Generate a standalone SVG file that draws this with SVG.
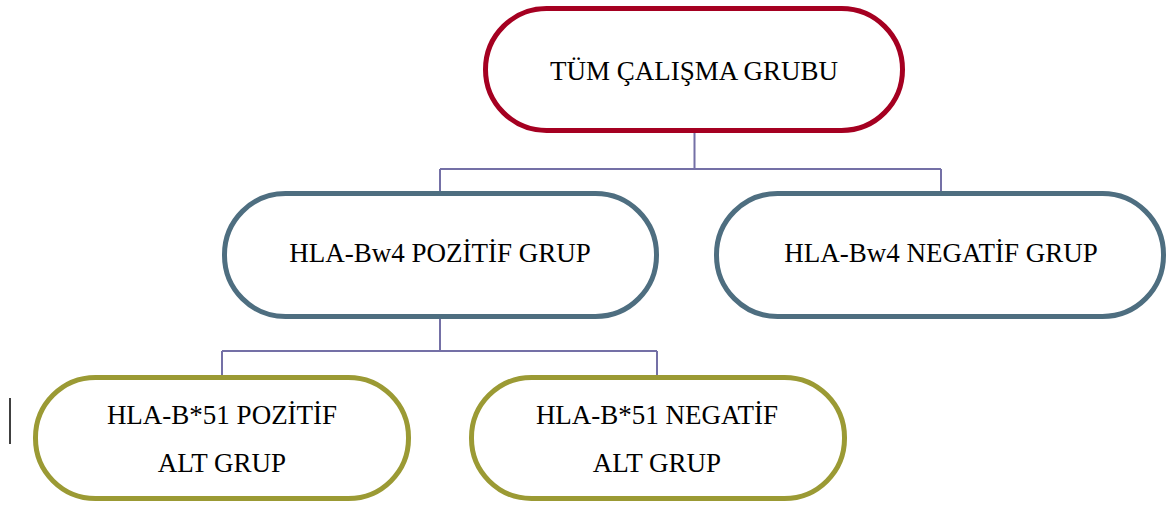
<svg xmlns="http://www.w3.org/2000/svg" width="1167" height="505" viewBox="0 0 1167 505">
<style>
.t{font-family:"Liberation Serif","Times New Roman","DejaVu Serif",serif;font-size:27px;fill:#000;text-anchor:middle}
.n{fill:#fff;stroke-width:5}
.c{fill:none;stroke:#7470A6;stroke-width:2}
</style>
<rect width="1167" height="505" fill="#fff"/>
<g id="connectors">
<path class="c" d="M694.5 131V169M440 169H941M440 169V192M941 169V192"/>
<path class="c" d="M440 318V351M222 351H657M222 351V377M657 351V377"/>
</g>
<g id="n1"><rect class="n" stroke="#A50021" x="485.5" y="8.5" width="417" height="122" rx="61"/><text class="t" x="694" y="80">TÜM ÇALIŞMA GRUBU</text></g>
<g id="n2"><rect class="n" stroke="#4E6E80" x="224.5" y="193.5" width="432" height="123" rx="61"/><text class="t" x="440" y="262">HLA-Bw4 POZİTİF GRUP</text></g>
<g id="n3"><rect class="n" stroke="#4E6E80" x="716.5" y="193.5" width="447" height="123" rx="61"/><text class="t" x="941" y="262">HLA-Bw4 NEGATİF GRUP</text></g>
<g id="n4"><rect class="n" stroke="#9B9A34" x="35.5" y="377.5" width="373" height="121" rx="60"/><text class="t" x="222" y="424">HLA-B*51 POZİTİF</text><text class="t" x="222" y="472">ALT GRUP</text></g>
<g id="n5"><rect class="n" stroke="#9B9A34" x="471.5" y="377.5" width="373" height="121" rx="60"/><text class="t" x="657" y="424">HLA-B*51 NEGATİF</text><text class="t" x="657" y="472">ALT GRUP</text></g>
<line x1="10" y1="398" x2="10" y2="444" stroke="#000" stroke-width="1.5"/>
</svg>
